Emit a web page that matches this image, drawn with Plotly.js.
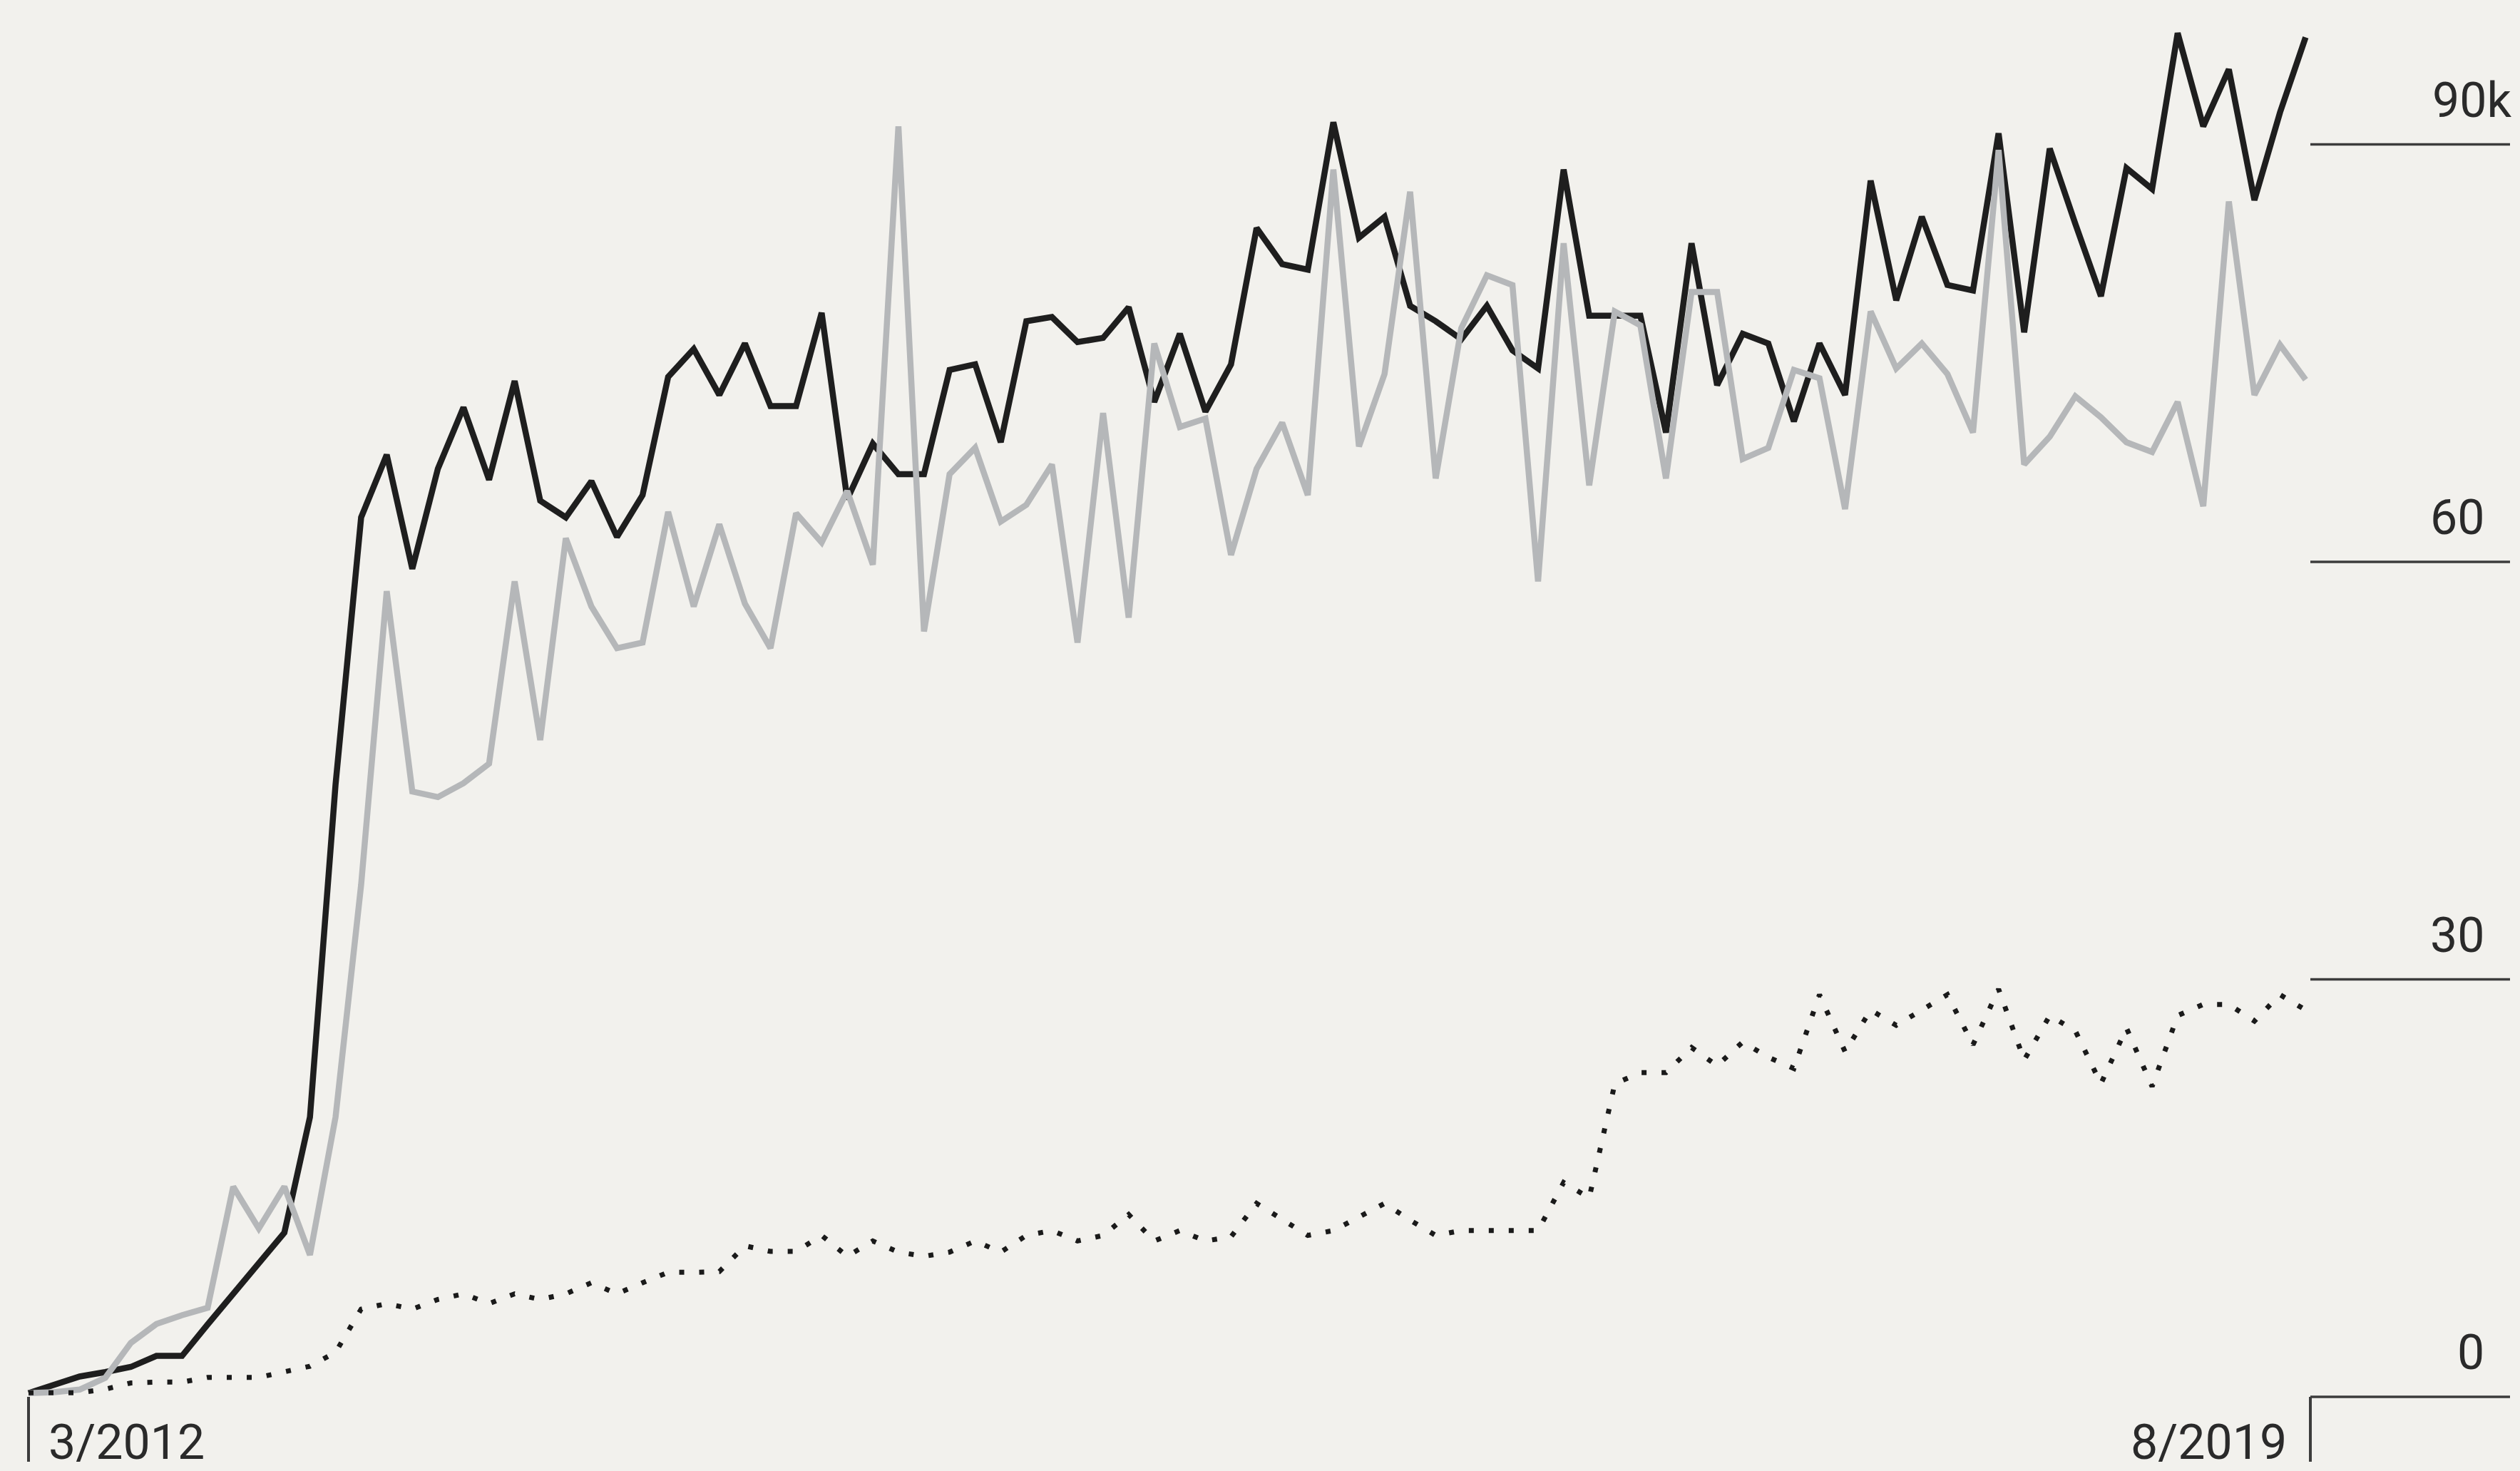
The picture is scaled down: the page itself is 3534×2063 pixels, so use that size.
<!DOCTYPE html>
<html>
<head>
<meta charset="utf-8">
<script src="https://cdn.plot.ly/plotly-3.0.1.min.js"></script>
<style>
  html, body { margin: 0; padding: 0; background: #f2f1ed; }
  #chart { width: 3534px; height: 2063px; }
</style>
</head>
<body>
<div id="chart"></div>
<script>
// Monthly categories, 3/2012 .. 8/2019
const startMonth = 3, startYear = 2012, monthCount = 90;
const months = [];
for (let k = 0; k < monthCount; k++) {
  const idx = (startMonth - 1) + k;
  months.push(((idx % 12) + 1) + '/' + (startYear + Math.floor(idx / 12)));
}

// Series values (thousands)
const blackSeries = [
  0.27, 0.9, 1.46, 1.78, 2.15, 2.94, 2.94, 5.2, 7.4, 9.6,
  11.8, 20.1, 44.0, 63.2, 67.7, 59.5, 66.7, 71.1, 65.9, 73.0,
  64.4, 63.2, 65.8, 61.8, 64.8, 73.3, 75.3, 72.0, 75.7, 71.2,
  71.2, 77.9, 64.5, 68.5, 66.3, 66.3, 73.8, 74.2, 68.6, 77.3,
  77.6, 75.8, 76.1, 78.3, 71.5, 76.4, 70.8, 74.2, 84.0, 81.4,
  81.0, 91.6, 83.3, 84.8, 78.4, 77.3, 76.0, 78.4, 75.2, 73.9,
  88.2, 77.7, 77.7, 77.7, 69.3, 82.9, 72.7, 76.4, 75.7, 70.1,
  75.7, 72.0, 87.4, 78.8, 84.8, 79.9, 79.5, 90.8, 76.5, 89.7,
  84.3, 79.1, 88.3, 86.8, 98.0, 91.3, 95.4, 86.0, 92.3, 97.7
];
const graySeries = [
  0.27, 0.33, 0.52, 1.37, 3.88, 5.24, 5.87, 6.4, 15.1, 12.1,
  15.1, 10.2, 20.1, 36.8, 57.9, 43.5, 43.1, 44.1, 45.5, 58.6,
  47.2, 61.7, 56.8, 53.8, 54.2, 63.6, 56.8, 62.7, 57.0, 53.8,
  63.5, 61.4, 65.1, 59.8, 91.3, 55.0, 66.3, 68.2, 62.9, 64.1,
  67.0, 54.2, 70.7, 56.0, 75.7, 69.7, 70.3, 60.5, 66.7, 70.0,
  64.8, 88.2, 68.3, 73.5, 86.6, 66.0, 76.8, 80.6, 79.9, 58.6,
  82.9, 65.5, 78.0, 77.0, 66.0, 79.4, 79.4, 67.4, 68.2, 73.8,
  73.2, 63.8, 78.0, 73.9, 75.7, 73.5, 69.3, 89.6, 67.0, 69.0,
  71.9, 70.4, 68.6, 67.9, 71.5, 64.0, 85.9, 72.0, 75.6, 73.1
];
const dottedSeries = [
  0.3, 0.3, 0.3, 0.55, 1.0, 1.06, 1.06, 1.4, 1.4, 1.4,
  1.8, 2.2, 3.2, 6.3, 6.7, 6.3, 7.0, 7.4, 6.7, 7.4,
  7.0, 7.4, 8.2, 7.4, 8.2, 8.95, 8.95, 9.0, 10.85, 10.45,
  10.45, 11.6, 10.1, 11.2, 10.4, 10.1, 10.4, 11.2, 10.4, 11.6,
  11.95, 11.2, 11.6, 13.1, 11.2, 11.95, 11.2, 11.5, 13.9, 12.7,
  11.6, 11.95, 12.95, 13.9, 12.7, 11.6, 11.95, 11.95, 11.95, 11.95,
  15.4, 14.3, 22.5, 23.3, 23.3, 25.1, 23.8, 25.5, 24.4, 23.6,
  28.9, 24.8, 27.8, 26.7, 27.8, 28.9, 25.3, 29.3, 24.2, 27.4,
  26.3, 22.5, 26.5, 22.3, 27.4, 28.2, 28.2, 27.0, 28.9, 27.8
];

// Axis labels
const yTickValues = [0, 30, 60, 90];
const yTickLabels = ['0', '30', '60', '90k'];
const xEndLabels = [months[0], months[monthCount - 1]];

// Layout geometry
const W = 3534, H = 2063;
const pxPerMonth = 35.88, firstPx = 40;
const xr0 = -firstPx / pxPerMonth;
const xr1 = xr0 + W / pxPerMonth;
const zeroPx = 1959, ninetyPx = 202.6;
const pxPerUnit = (zeroPx - ninetyPx) / 90;
const yr0 = -(H - zeroPx) / pxPerUnit;
const yr1 = 90 + ninetyPx / pxPerUnit;
const pyToVal = p => (zeroPx - p) / pxPerUnit;

const tickLeft = 3240 / W, tickRight = 3520 / W;
const axisColor = '#3c3c3c';
const textColor = '#2a2a2a';
const fontFamily = 'Roboto, "Noto Sans", "DejaVu Sans", sans-serif';
const fontSize = 68;

const traces = [
  { x: months, y: blackSeries, type: 'scatter', mode: 'lines',
    line: { color: '#1e1e1e', width: 8.5 }, hoverinfo: 'skip' },
  { x: months, y: graySeries, type: 'scatter', mode: 'lines',
    line: { color: '#b5b7b9', width: 8.5 }, hoverinfo: 'skip' },
  { x: months, y: dottedSeries, type: 'scatter', mode: 'lines',
    line: { color: '#1a1a1a', width: 7, dash: '7px,21px' }, hoverinfo: 'skip' }
];

const shapes = [];
yTickValues.forEach(v => {
  shapes.push({ type: 'line', xref: 'paper', yref: 'y', x0: tickLeft, x1: tickRight,
    y0: v, y1: v, line: { color: axisColor, width: 3.5 } });
});
// bottom corner ticks
shapes.push({ type: 'line', xref: 'x', yref: 'y', x0: 0, x1: 0, y0: 0, y1: pyToVal(2050),
  line: { color: axisColor, width: 4 } });
shapes.push({ type: 'line', xref: 'paper', yref: 'y', x0: tickLeft, x1: tickLeft, y0: 0, y1: pyToVal(2050),
  line: { color: axisColor, width: 4 } });

const annotations = [];
yTickValues.forEach((v, k) => {
  const isK = yTickLabels[k].endsWith('k');
  annotations.push({
    xref: 'paper', yref: 'y', x: (isK ? 3524 : 3486) / W, y: v,
    xanchor: 'right', yanchor: 'middle', yshift: 62,
    text: yTickLabels[k], showarrow: false,
    font: { family: fontFamily, size: fontSize, color: textColor }
  });
});
annotations.push({
  xref: 'paper', yref: 'y', x: 66 / W, y: pyToVal(2023),
  xanchor: 'left', yanchor: 'middle', text: xEndLabels[0], showarrow: false,
  font: { family: fontFamily, size: fontSize, color: textColor }
});
annotations.push({
  xref: 'paper', yref: 'y', x: 3209 / W, y: pyToVal(2023),
  xanchor: 'right', yanchor: 'middle', text: xEndLabels[1], showarrow: false,
  font: { family: fontFamily, size: fontSize, color: textColor }
});

const layout = {
  width: W, height: H,
  margin: { l: 0, r: 0, t: 0, b: 0, pad: 0 },
  paper_bgcolor: '#f2f1ed', plot_bgcolor: '#f2f1ed',
  showlegend: false, hovermode: false,
  xaxis: { type: 'category', range: [xr0, xr1], showgrid: false, zeroline: false,
    showticklabels: false, showline: false, ticks: '', fixedrange: true },
  yaxis: { range: [yr0, yr1], showgrid: false, zeroline: false,
    showticklabels: false, showline: false, ticks: '', fixedrange: true },
  shapes: shapes,
  annotations: annotations
};

Plotly.newPlot('chart', traces, layout, { displayModeBar: false, staticPlot: true });
</script>
</body>
</html>
